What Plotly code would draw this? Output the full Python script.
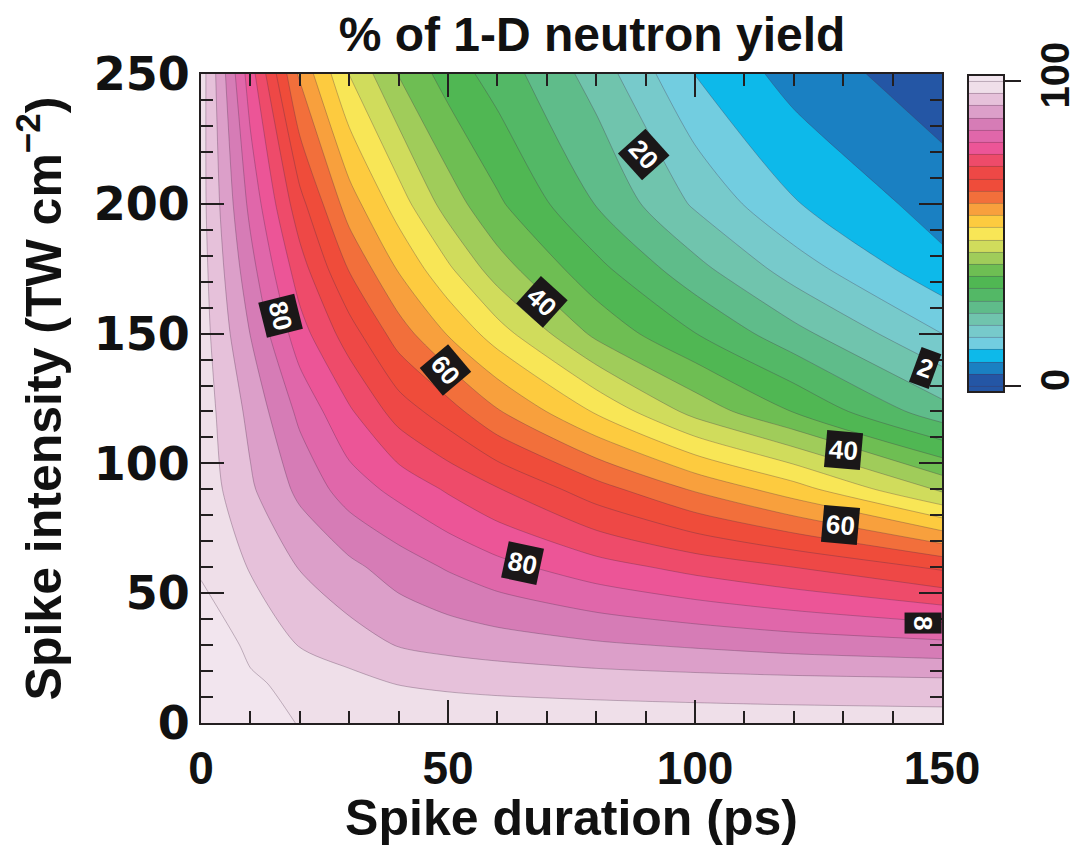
import plotly.graph_objects as go

# ---- data ----
duration_ps = [0, 10, 20, 30, 40, 50, 60, 80, 100, 120, 150]
intensity_tw = [0, 15, 30, 60, 90, 120, 150, 175, 200, 250]
# rows follow intensity_tw, columns follow duration_ps (percent of 1-D yield)
yield_pct = [
    [104.5, 102.0, 99.8, 99.3, 99.0, 98.8, 98.6, 98.5, 98.3, 98.1, 97.9],
    [103.5, 100.5, 99.1, 97.5, 95.9, 95.3, 94.9, 94.3, 93.9, 93.6, 93.3],
    [102.5, 99.3, 95.8, 93.8, 91.8, 90.8, 90.0, 88.6, 87.5, 86.4, 85.2],
    [99.5, 95.7, 91.8, 89.0, 86.1, 83.6, 81.3, 77.7, 74.7, 72.0, 67.3],
    [98.6, 92.6, 87.0, 82.0, 78.8, 75.5, 72.3, 65.7, 59.5, 53.8, 43.2],
    [98.2, 90.9, 83.0, 76.6, 70.2, 65.8, 60.4, 51.5, 42.6, 35.8, 25.5],
    [97.9, 87.9, 77.7, 69.9, 62.0, 55.7, 49.9, 39.0, 32.1, 25.3, 16.0],
    [97.7, 85.4, 73.8, 63.7, 55.6, 48.7, 41.8, 33.2, 25.3, 18.1, 9.1],
    [97.5, 82.9, 69.4, 57.9, 50.0, 42.1, 36.7, 27.8, 19.4, 12.3, 6.2],
    [98.0, 77.8, 59.1, 47.9, 39.8, 34.2, 30.2, 22.3, 11.9, 6.4, 1.5],
]

# contour labels (text, duration, intensity, angle)
label_text = ["80", "60", "40", "20", "40", "60", "80", "2", "8"]
label_x = [16, 49.5, 69, 89.5, 130, 129.5, 65, 150, 150]
label_y = [157, 136, 162, 219, 105, 76.3, 61.5, 136.6, 38.5]
label_angle = [76, 50, 42, 48, 5, 5, 12, 20, 90]

band_colors = [
    "#2456a5", "#1a80c2", "#0db9ea", "#72cde0", "#77cacb",
    "#70c4ad", "#5fbc8a", "#53b866", "#50b753", "#6ebe53",
    "#a0cc5a", "#d0dc5c", "#f8e656", "#fdcb3f", "#f8a03d",
    "#f26f3b", "#ef4c3a", "#ee4846", "#ee4b6a", "#ec5597",
    "#e067aa", "#d67cb6", "#dc9fc9", "#e6c1da", "#efdfe9",
]
above_color = "#f2e5ee"

region_colors = [band_colors[0]] + band_colors + [above_color]
N = len(region_colors)
colorscale = []
for j, c in enumerate(region_colors):
    lo = max(0.0, (j - 0.5) / (N - 1))
    hi = min(1.0, (j + 0.5) / (N - 1))
    colorscale.append([lo, c])
    colorscale.append([hi, c])

INK = "#231f20"
# the page body adds an 8 px offset, so the figure is sized and placed accordingly
W, H = 1070, 838
L, R, T, B = 193, 934, 66, 715

fig = go.Figure()
fig.add_trace(go.Contour(
    x=duration_ps, y=intensity_tw, z=yield_pct,
    contours=dict(start=0, end=100, size=4, coloring="fill", showlines=True),
    colorscale=colorscale,
    line=dict(color="rgba(70,45,70,0.35)", width=0.9, smoothing=0.7),
    hoverinfo="skip",
    colorbar=dict(
        thickness=36, thicknessmode="pixels",
        len=317, lenmode="pixels",
        x=(960 - L) / (R - L), xanchor="left",
        y=1 - 1 / (B - T), yanchor="top",
        xpad=0, ypad=0,
        outlinecolor=INK, outlinewidth=2,
        tickvals=[0, 100], ticktext=["0", "100"],
        ticks="outside", ticklen=16, tickwidth=2, tickcolor=INK,
        tickangle=-90,
        tickfont=dict(family="Liberation Sans", size=40, weight="bold", color="#111"),
    ),
))

for t, xv, yv, ang in zip(label_text, label_x, label_y, label_angle):
    edge = xv >= 150
    fig.add_annotation(
        x=xv, y=yv, xref="x", yref="y", text=t, showarrow=False,
        textangle=ang, bgcolor="#1a1718", borderpad=3,
        xanchor="right" if edge else "center",
        font=dict(family="Liberation Sans", size=26, weight="bold", color="white"),
    )

axis_common = dict(
    ticks="inside", ticklen=23, tickwidth=2, tickcolor=INK,
    showline=True, linewidth=2, linecolor=INK, mirror="allticks",
    showgrid=False, zeroline=False, automargin=False,
)

fig.update_layout(
    width=W, height=H,
    margin=dict(l=L, r=W - R, t=T, b=H - B, autoexpand=False),
    paper_bgcolor="white", plot_bgcolor="white",
    title=dict(
        text="% of 1-D neutron yield", x=584 / W, xanchor="center",
        y=1 - 26 / H, yanchor="middle", xref="container", yref="container",
        font=dict(family="Liberation Sans", size=48, weight="bold", color="#111"),
    ),
    xaxis=dict(
        range=[0, 150], tick0=0, dtick=50,
        minor=dict(dtick=10, ticks="inside", ticklen=12, tickwidth=2, tickcolor=INK),
        tickfont=dict(family="Liberation Sans", size=46, weight="bold", color="#111"),
        ticklabelstandoff=4,
        title=dict(text="Spike duration (ps)", standoff=26,
                   font=dict(family="Liberation Sans", size=50, weight="bold", color="#111")),
        **axis_common,
    ),
    yaxis=dict(
        range=[0, 250], tick0=0, dtick=50,
        minor=dict(dtick=10, ticks="inside", ticklen=12, tickwidth=2, tickcolor=INK),
        tickfont=dict(family="DejaVu Sans", size=46, weight="bold", color="#111"),
        ticklabelstandoff=0,
        title=dict(text="Spike intensity (TW cm<sup>−2</sup>)", standoff=20,
                   font=dict(family="Liberation Sans", size=50, weight="bold", color="#111")),
        **axis_common,
    ),
)

fig.write_html("out.html")
